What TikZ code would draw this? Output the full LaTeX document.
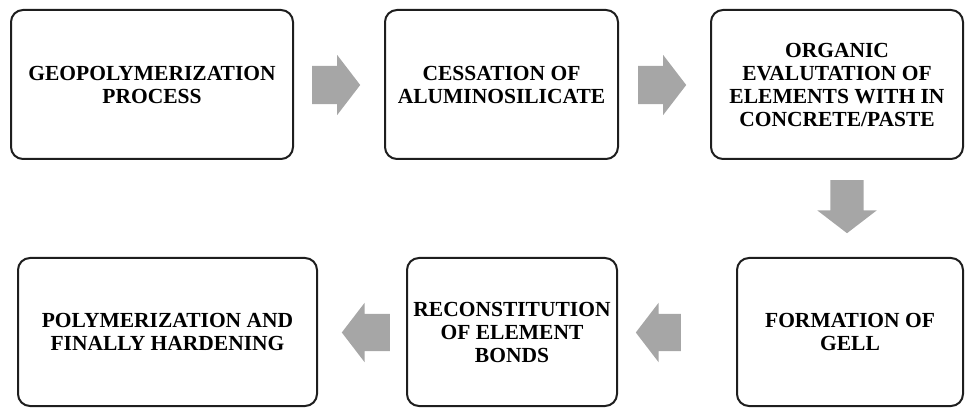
\documentclass[tikz,border=0pt]{standalone}
\usepackage{fontspec}
\setmainfont{Liberation Serif}
\usepackage{tikz}
\usetikzlibrary{shapes.arrows}

\definecolor{arrowgray}{HTML}{A6A6A6}
\definecolor{boxline}{HTML}{1E1E1E}

\tikzset{
  stagebox/.style={draw=boxline, line width=2pt, rounded corners=12pt, align=center,
    font=\fontsize{21.5}{23}\selectfont\bfseries, inner sep=0pt},
  flowarrow/.style={single arrow, draw=none, fill=arrowgray, inner xsep=0pt, inner ysep=19pt,
    single arrow head extend=11pt, single arrow tip angle=105, minimum height=48pt, anchor=tail},
}

\begin{document}
\begin{tikzpicture}[x=1pt, y=1pt]
\useasboundingbox (0,0) rectangle (965,407);
% top row
\node[stagebox, minimum width=282pt, minimum height=149pt] (geo) at (152,322.5) {GEOPOLYMERIZATION\\PROCESS};
\node[stagebox, minimum width=233pt, minimum height=149pt] (cess) at (501.5,322.5) {CESSATION OF\\ALUMINOSILICATE};
\node[stagebox, minimum width=252pt, minimum height=149pt] (organic) at (837,322.5) {ORGANIC\\EVALUTATION OF\\ELEMENTS WITH IN\\CONCRETE/PASTE};
% bottom row
\node[stagebox, minimum width=299pt, minimum height=148pt] (poly) at (167.5,75) {POLYMERIZATION AND\\FINALLY HARDENING};
\node[stagebox, minimum width=210pt, minimum height=148pt] (recon) at (512,75) {RECONSTITUTION\\OF ELEMENT\\BONDS};
\node[stagebox, minimum width=226pt, minimum height=148pt] (gell) at (850,75) {FORMATION OF\\GELL};
% block arrows (placed by their tails)
\node[flowarrow] (geo-cess) at (312,322) {};
\node[flowarrow] (cess-organic) at (638,322) {};
\node[flowarrow, rotate=-90, minimum height=53pt, inner ysep=16.5pt, single arrow head extend=13pt] (organic-gell) at (847,227) {};
\node[flowarrow, rotate=180, inner ysep=18.5pt, minimum height=45pt] (gell-recon) at (681,74.5) {};
\node[flowarrow, rotate=180, inner ysep=18.5pt] (recon-poly) at (390,74.5) {};
\end{tikzpicture}
\end{document}
